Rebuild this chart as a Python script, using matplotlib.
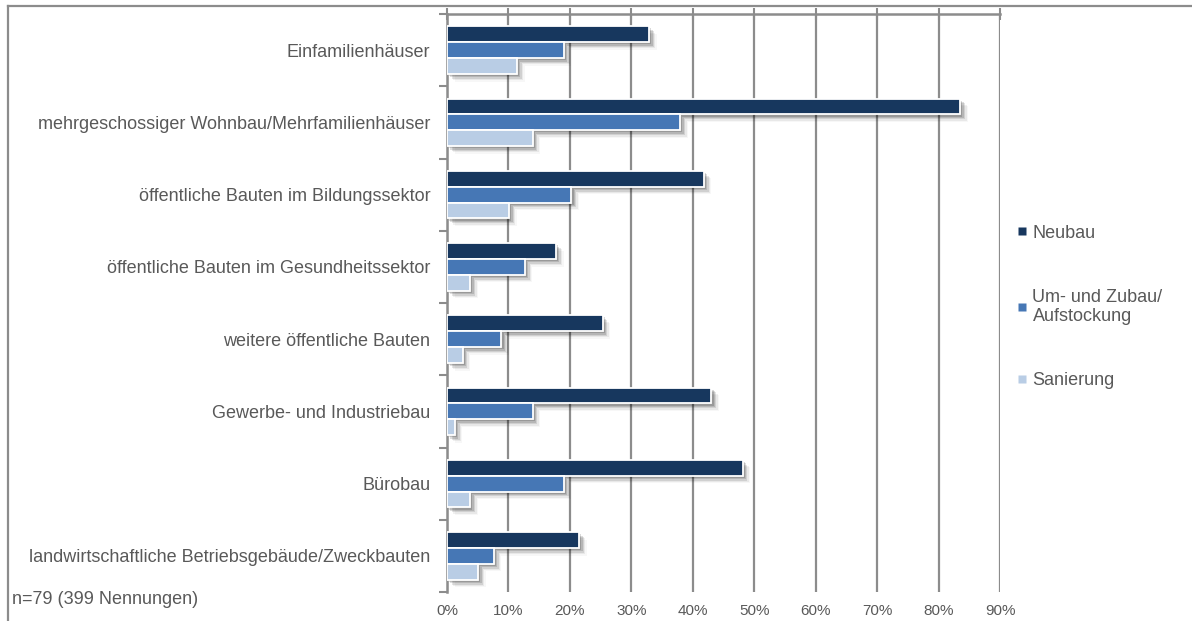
import numpy as np
import matplotlib
matplotlib.use('Agg')
import matplotlib.pyplot as plt
import matplotlib.patheffects as pe
from matplotlib.lines import Line2D

plt.rcParams['font.family'] = ['Liberation Sans', 'DejaVu Sans']

categories = [
    'Einfamilienhäuser',
    'mehrgeschossiger Wohnbau/Mehrfamilienhäuser',
    'öffentliche Bauten im Bildungssektor',
    'öffentliche Bauten im Gesundheitssektor',
    'weitere öffentliche Bauten',
    'Gewerbe- und Industriebau',
    'Bürobau',
    'landwirtschaftliche Betriebsgebäude/Zweckbauten',
]
# Nennungen je Kategorie (n=79)
neubau = [26, 66, 33, 14, 20, 34, 38, 17]
umbau = [15, 30, 16, 10, 7, 11, 15, 6]
sanierung = [9, 11, 8, 3, 2, 1, 3, 4]
n_total = 79
series_names = ['Neubau', 'Um- und Zubau/\nAufstockung', 'Sanierung']
colors = ['#17375E', '#4677B5', '#B9CDE5']
xticks = [0, 10, 20, 30, 40, 50, 60, 70, 80, 90]

text_col = '#595959'
grid_col = '#8C8C8C'

fig = plt.figure(figsize=(11.92, 6.21), dpi=100)
ax = fig.add_axes([447 / 1192, 1 - 592 / 621, (1000 - 447) / 1192, (592 - 14) / 621])

# weicher Schatten rechts unten
shadow = [
    pe.SimplePatchShadow(offset=(1.5, -1.5), shadow_rgbFace='black', alpha=0.15),
    pe.SimplePatchShadow(offset=(2.5, -2.5), shadow_rgbFace='black', alpha=0.13),
    pe.SimplePatchShadow(offset=(3.5, -3.5), shadow_rgbFace='black', alpha=0.10),
    pe.SimplePatchShadow(offset=(4.5, -4.5), shadow_rgbFace='black', alpha=0.06),
    pe.SimplePatchShadow(offset=(5.5, -5.5), shadow_rgbFace='black', alpha=0.03),
    pe.Normal(),
]

y = np.arange(len(categories))
h = 0.22
for k, vals in enumerate([neubau, umbau, sanierung]):
    pct = np.array(vals) / n_total * 100
    bars = ax.barh(y + (k - 1) * h, pct, height=h, color=colors[k],
                   edgecolor='white', linewidth=1.3, zorder=3)
    for b in bars:
        b.set_path_effects(shadow)

ax.set_ylim(len(categories) - 0.5, -0.5)
ax.set_xlim(0, 90)

ax.set_xticks(xticks)
ax.set_xticklabels([f'{v}%' for v in xticks], color=text_col, fontsize=11)
ax.tick_params(axis='x', top=True, bottom=False, labeltop=False, labelbottom=True,
               direction='inout', length=9, width=1.5, color=grid_col, pad=4)
ax.xaxis.grid(True, color=grid_col, linewidth=1.6, zorder=0)
ax.set_axisbelow(True)

ax.set_yticks(y)
ax.set_yticklabels(categories, color=text_col, fontsize=13)
ax.set_yticks(np.arange(len(categories) + 1) - 0.5, minor=True)
ax.tick_params(axis='y', which='major', length=0, pad=12)
ax.tick_params(axis='y', which='minor', length=6, width=1.5, color=grid_col, direction='out')

for s in ['bottom', 'right']:
    ax.spines[s].set_visible(False)
for s in ['top', 'left']:
    ax.spines[s].set_color(grid_col)
    ax.spines[s].set_linewidth(1.8)

handles = [Line2D([], [], marker='s', linestyle='none', markersize=6,
                  markerfacecolor=c, markeredgecolor='none') for c in colors]
fig.legend(handles, series_names, loc='center left', bbox_to_anchor=(1000 / 1192, 1 - 307 / 621),
           frameon=False, fontsize=13, labelcolor=text_col, handlelength=0.6,
           handletextpad=0.3, labelspacing=2.6)

fig.text(12 / 1192, 1 - 600 / 621, 'n=79 (399 Nennungen)', color=text_col, fontsize=13,
         va='center', ha='left')

# Rahmen links und oben
fig.add_artist(Line2D([8 / 1192, 8 / 1192], [0, 1 - 6 / 621], color='#8C8C8C', linewidth=1.6))
fig.add_artist(Line2D([8 / 1192, 1], [1 - 6 / 621, 1 - 6 / 621], color='#8C8C8C', linewidth=1.6))

fig.savefig('out.png', dpi=100)
